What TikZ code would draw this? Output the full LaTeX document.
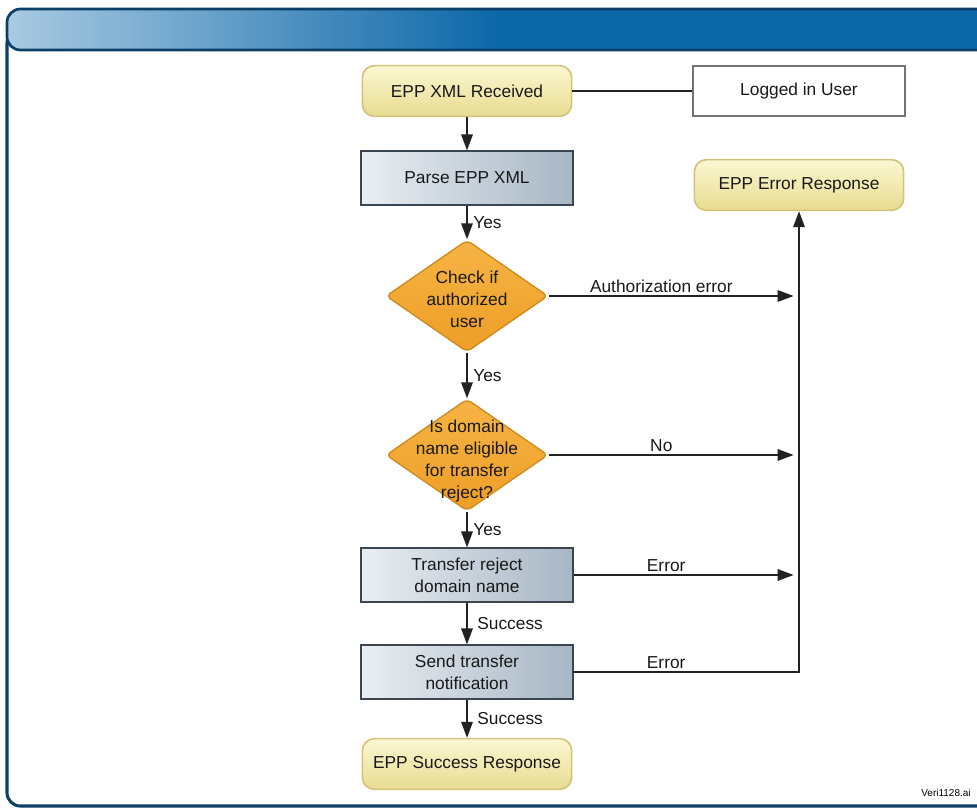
\documentclass[tikz,border=0pt]{standalone}
\usepackage{fontspec}
\setmainfont{Liberation Sans}
\usetikzlibrary{shapes,arrows.meta}

\definecolor{hdrlight}{HTML}{A9CAE2}
\definecolor{hdrblue}{HTML}{0B67A8}
\definecolor{hdrline}{HTML}{0C3F66}
\definecolor{yellowtop}{HTML}{FBF7D2}
\definecolor{yellowbot}{HTML}{E8DC90}
\definecolor{yellowline}{HTML}{D3C27A}
\definecolor{steeltop}{HTML}{E9EEF2}
\definecolor{steelbot}{HTML}{A7B6C5}
\definecolor{steelline}{HTML}{3B4650}
\definecolor{ambertop}{HTML}{F6B445}
\definecolor{amberbot}{HTML}{EE9E26}
\definecolor{amberline}{HTML}{CF8A1C}
\definecolor{wire}{HTML}{222222}

\pgfdeclarehorizontalshading{hdr}{100bp}{color(0bp)=(hdrlight); color(25bp)=(hdrlight); color(50bp)=(hdrblue); color(100bp)=(hdrblue)}

\tikzset{
  txt/.style={font=\fontsize{13}{16.5}\selectfont, text=black!90, align=center},
  startbox/.style={txt, rounded corners=9pt, draw=yellowline, line width=1.2pt,
    top color=yellowtop, bottom color=yellowbot, minimum width=157pt, minimum height=38pt},
  userbox/.style={txt, draw=black!55, line width=1.3pt, fill=white,
    minimum width=159pt, minimum height=38pt},
  procbox/.style={txt, draw=steelline, line width=1.3pt, left color=steeltop,
    right color=steelbot, minimum width=159pt, minimum height=40pt},
  decision/.style={diamond, draw=amberline, line width=1pt, rounded corners=4pt,
    top color=ambertop, bottom color=amberbot, minimum width=121.5pt,
    minimum height=84pt, inner sep=0pt},
  lbl/.style={txt, inner sep=2pt},
  link/.style={draw=wire, line width=1.5pt},
}

\begin{document}
\begin{tikzpicture}[x=0.75pt,y=-0.75pt,>={Triangle[length=12pt,width=8.5pt]}]
\useasboundingbox (0,0) rectangle (977,810);
% frame and header bar
\draw[hdrline, line width=2.3pt, rounded corners=10pt] (7,30) rectangle (995,806);
\draw[hdrline, line width=2pt, rounded corners=10pt, shading=hdr] (7,9) rectangle (995,50);

\node[startbox] (recv) at (467,91) {EPP XML Received};
\node[userbox] (user) at (799,91) {Logged in User};
\node[procbox] (parse) at (467,178) {Parse EPP XML};
\node[startbox] (err) at (799,185) {EPP Error Response};
\node[decision] (auth) at (467,296) {};
\node[txt] (authtext) at (467,299) {Check if\\authorized\\user};
\node[decision] (elig) at (467,455) {};
\node[txt] (eligtext) at (467,461) {Is domain\\name eligible\\for transfer\\reject?};
\node[procbox] (reject) at (467,575) {Transfer reject\\domain name};
\node[procbox] (notify) at (467,672) {Send transfer\\notification};
\node[startbox] (done) at (467,764) {EPP Success Response};
\node[font=\fontsize{7.5}{9}\selectfont] (tag) at (946,793) {Veri1128.ai};
\coordinate (bus) at (799,672);

\draw[link] (recv) -- (user);
\draw[link,->] (recv) -- (parse);
\draw[link,->] (parse) -- node[lbl,right,xshift=2pt] {Yes} (auth);
\draw[link,->] (auth) -- node[lbl,right,xshift=2pt] {Yes} (elig);
\draw[link,->] (elig) -- node[lbl,right,xshift=2pt] {Yes} (reject);
\draw[link,->] (reject) -- node[lbl,right,xshift=5pt] {Success} (notify);
\draw[link,->] (notify) -- node[lbl,right,xshift=5pt] {Success} (done);
\draw[link,->,shorten >=4pt] (auth) -- node[lbl,above,pos=0.45] {Authorization error} (auth -| bus);
\draw[link,->,shorten >=4pt] (elig) -- node[lbl,above,pos=0.45] {No} (elig -| bus);
\draw[link,->,shorten >=4pt] (reject) -- node[lbl,above,pos=0.41] {Error} (reject -| bus);
\draw[link,->] (notify) -- node[lbl,above,pos=0.41] {Error} (bus) -- (err);
\end{tikzpicture}
\end{document}
